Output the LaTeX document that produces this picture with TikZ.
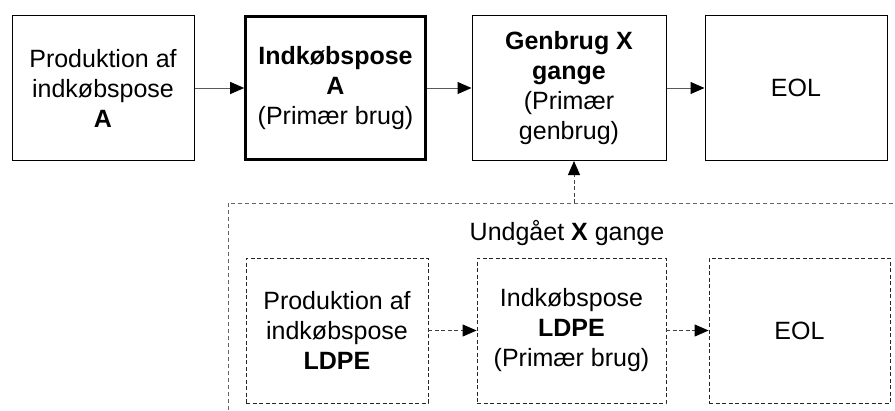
\documentclass[tikz,border=0pt]{standalone}
\usepackage{fontspec}
\setmainfont{Liberation Sans}
\usetikzlibrary{arrows.meta}
\begin{document}
\begin{tikzpicture}[x=1pt,y=-1pt,
  box/.style={draw=black,line width=1pt,minimum width=182pt,minimum height=145pt,align=center,inner sep=0pt,
    font=\fontsize{25}{30}\selectfont},
  thickbox/.style={box,line width=2.6pt},
  dbox/.style={box,draw=black!85,line width=0.8pt,dash pattern=on 4pt off 2.5pt},
  conn/.style={draw=black!65,line width=1pt,-{Triangle[length=14pt,width=12pt,fill=black,color=black]}},
  dconn/.style={conn,draw=black!75,dash pattern=on 4pt off 2.5pt},
  outer/.style={draw=black!60,line width=1pt,dash pattern=on 4pt off 3pt}]
\useasboundingbox (0,0) rectangle (895,410);
\node[box] (b1) at (103,88) {Produktion af\\indkøbspose\\\textbf{A}};
\node[thickbox,minimum width=180pt,minimum height=143pt] (b2) at (335.5,88) {\textbf{Indkøbspose}\\\textbf{A}\\(Primær brug)};
\node[box,minimum width=194pt] (b3) at (569,88) {\textbf{Genbrug X}\\\textbf{gange}\\(Primær\\genbrug)};
\node[box] (b4) at (796,88) {EOL};
\draw[conn] (b1) -- (b2);
\draw[conn] (b2) -- (b3);
\draw[conn] (b3) -- (b4);
% outer dashed region (clipped by page)
\coordinate (otl) at (228,203);
\coordinate (otr) at (894,203);
\coordinate (obl) at (228,410);
\coordinate (otop) at (574,203);
\draw[outer] (obl) -- (otl) -- (otr);
\draw[dconn] (otop) -- (otop |- b3.south);
\node[font=\fontsize{25}{30}\selectfont] (lbl) at (567,233) {Undgået \textbf{X} gange};
\node[dbox] (l1) at (337,330.5) {Produktion af\\indkøbspose\\\textbf{LDPE}};
\node[dbox,minimum width=189pt] (l2) at (571.5,330.5) {Indkøbspose\\\textbf{LDPE}\\(Primær brug)};
\node[dbox,minimum width=181pt] (l3) at (799.5,330.5) {EOL};
\draw[dconn] (l1) -- (l2);
\draw[dconn] (l2) -- (l3);
\end{tikzpicture}
\end{document}
